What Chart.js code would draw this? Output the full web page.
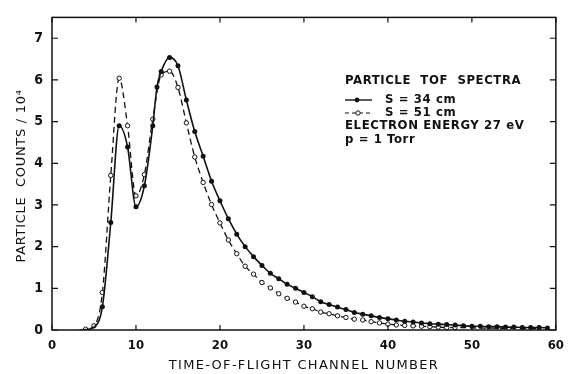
<!DOCTYPE html>
<html>
<head>
<meta charset="utf-8">
<script src="https://cdn.jsdelivr.net/npm/chart.js@4"></script>
<style>
    html, body { margin: 0; padding: 0; background: #fff; }
    #wrap { width: 572px; height: 374px; }
</style>
</head>
<body>
<div id="wrap"><canvas id="tofChart" width="572" height="374"></canvas></div>
<script>
// S = 34 cm (solid, filled dots)
const channelsS34 = [3.3, 4, 5, 6, 7, 8, 9, 10, 11, 12, 12.5, 13, 14, 15, 16, 17, 18, 19, 20,
    21, 22, 23, 24, 25, 26, 27, 28, 29, 30, 31, 32, 33, 34, 35, 36, 37, 38, 39, 40,
    41, 42, 43, 44, 45, 46, 47, 48, 49, 50, 51, 52, 53, 54, 55, 56, 57, 58, 59];
const countsS34 = [0, 0.01, 0.07, 0.56, 2.58, 4.9, 4.39, 2.96, 3.46, 4.9, 5.83, 6.2, 6.54, 6.34, 5.52, 4.76, 4.17, 3.57, 3.1,
    2.67, 2.3, 2.0, 1.76, 1.55, 1.36, 1.23, 1.1, 1.0, 0.9, 0.8, 0.68, 0.61, 0.55, 0.49, 0.42, 0.38, 0.34, 0.30, 0.27,
    0.24, 0.21, 0.19, 0.17, 0.15, 0.14, 0.13, 0.12, 0.10, 0.09, 0.09, 0.08, 0.08, 0.07, 0.07, 0.06, 0.06, 0.06, 0.05];

// S = 51 cm (dashed, open circles)
const channelsS51 = [3.3, 4, 5, 6, 7, 8, 9, 10, 11, 12, 13, 14, 15, 16, 17, 18, 19, 20,
    21, 22, 23, 24, 25, 26, 27, 28, 29, 30, 31, 32, 33, 34, 35, 36, 37, 38, 39, 40,
    41, 42, 43, 44, 45, 46, 47, 48, 50, 54, 58];
const countsS51 = [0, 0.02, 0.1, 0.9, 3.71, 6.04, 4.9, 3.22, 3.73, 5.06, 6.12, 6.21, 5.82, 4.97, 4.15, 3.54, 3.01, 2.57,
    2.16, 1.83, 1.53, 1.34, 1.14, 1.01, 0.87, 0.76, 0.67, 0.57, 0.51, 0.43, 0.39, 0.34, 0.30, 0.26, 0.24, 0.20, 0.17, 0.14,
    0.12, 0.11, 0.10, 0.09, 0.08, 0.07, 0.06, 0.06, 0.05, 0.04, 0.03];

const xTicks = [0, 10, 20, 30, 40, 50, 60];
const yTicks = [0, 1, 2, 3, 4, 5, 6, 7];

const xTitle = 'TIME-OF-FLIGHT CHANNEL NUMBER';
const yTitle = 'PARTICLE  COUNTS / 10⁴';
const legendLines = ['PARTICLE  TOF  SPECTRA', 'S = 34 cm', 'S = 51 cm', 'ELECTRON ENERGY 27 eV', 'p = 1 Torr'];

const FONT = "'DejaVu Sans Condensed', 'DejaVu Sans', sans-serif";
const FONT_WIDE = "'DejaVu Sans', sans-serif";

function toPoints(xs, ys) {
    return xs.map((x, i) => ({ x: x, y: ys[i] }));
}

// frame with inward ticks on all four sides, axis titles and the text block
const framePlugin = {
    id: 'frame',
    afterDraw(chart) {
        const { ctx, chartArea: a, scales } = chart;
        ctx.save();
        ctx.strokeStyle = '#111';
        ctx.lineWidth = 1.5;
        ctx.strokeRect(a.left, a.top, a.right - a.left, a.bottom - a.top);
        ctx.lineWidth = 1.2;
        ctx.beginPath();
        xTicks.forEach(v => {
            const px = scales.x.getPixelForValue(v);
            ctx.moveTo(px, a.bottom); ctx.lineTo(px, a.bottom - 5);
            ctx.moveTo(px, a.top); ctx.lineTo(px, a.top + 5);
        });
        yTicks.forEach(v => {
            const py = scales.y.getPixelForValue(v);
            ctx.moveTo(a.left, py); ctx.lineTo(a.left + 6, py);
            ctx.moveTo(a.right, py); ctx.lineTo(a.right - 6, py);
        });
        ctx.stroke();

        ctx.fillStyle = '#111';
        ctx.textBaseline = 'middle';
        ctx.textAlign = 'center';

        // axis titles (letter-spaced like the original lettering)
        ctx.font = '13px ' + FONT_WIDE;
        ctx.letterSpacing = '1.3px';
        ctx.fillText(xTitle, (a.left + a.right) / 2, 366);
        ctx.letterSpacing = '0.7px';
        ctx.save();
        ctx.translate(22, 176);
        ctx.rotate(-Math.PI / 2);
        ctx.fillText(yTitle, 0, 0);
        ctx.restore();

        // legend block
        const lx = 345;
        ctx.textAlign = 'left';
        ctx.font = 'bold 13px ' + FONT;
        ctx.letterSpacing = '0.6px';
        ctx.fillText(legendLines[0], lx, 81);
        ctx.fillText(legendLines[1], 385, 100);
        ctx.fillText(legendLines[2], 385, 113);
        ctx.fillText(legendLines[3], lx, 126);
        ctx.fillText(legendLines[4], lx, 140);
        ctx.letterSpacing = '0px';

        // sample marks
        ctx.lineWidth = 1.4;
        ctx.beginPath();
        ctx.moveTo(lx, 100); ctx.lineTo(lx + 27, 100);
        ctx.stroke();
        ctx.beginPath();
        ctx.arc(lx + 12, 100, 2.4, 0, Math.PI * 2);
        ctx.fill();
        ctx.setLineDash([4, 3]);
        ctx.lineWidth = 1.2;
        ctx.beginPath();
        ctx.moveTo(lx, 113); ctx.lineTo(lx + 27, 113);
        ctx.stroke();
        ctx.setLineDash([]);
        ctx.fillStyle = '#fff';
        ctx.beginPath();
        ctx.arc(lx + 13, 113, 2.2, 0, Math.PI * 2);
        ctx.fill();
        ctx.lineWidth = 1;
        ctx.stroke();
        ctx.restore();
    }
};

const ctx = document.getElementById('tofChart').getContext('2d');
new Chart(ctx, {
    type: 'line',
    data: {
        datasets: [{
            label: 'S = 34 cm',
            data: toPoints(channelsS34, countsS34),
            borderColor: '#111',
            borderWidth: 1.6,
            backgroundColor: '#111',
            pointBorderColor: '#111',
            pointBorderWidth: 0,
            pointRadius: c => (c.raw && c.raw.x < 5.5 ? 0 : 2.5),
            cubicInterpolationMode: 'monotone',
            fill: false
        }, {
            label: 'S = 51 cm',
            data: toPoints(channelsS51, countsS51),
            borderColor: '#111',
            borderWidth: 1.3,
            borderDash: [6, 4],
            backgroundColor: '#fff',
            pointBackgroundColor: '#fff',
            pointBorderColor: '#111',
            pointBorderWidth: 1,
            pointRadius: c => (c.raw && (c.raw.x < 3.5 || c.raw.x > 48.5) ? 0 : 2.2),
            cubicInterpolationMode: 'monotone',
            fill: false
        }]
    },
    options: {
        responsive: false,
        animation: false,
        layout: { padding: { top: 13, right: 4, left: 0, bottom: 0 } },
        scales: {
            x: {
                type: 'linear',
                min: 0,
                max: 60,
                afterBuildTicks: axis => { axis.ticks = xTicks.map(v => ({ value: v })); },
                afterFit: axis => { axis.height = 44; },
                grid: { display: false, drawTicks: false },
                border: { display: false },
                ticks: {
                    color: '#111',
                    padding: 8,
                    font: { family: FONT, size: 13, weight: 'bold' }
                }
            },
            y: {
                type: 'linear',
                min: 0,
                max: 7.5,
                afterBuildTicks: axis => { axis.ticks = yTicks.map(v => ({ value: v })); },
                afterFit: axis => { axis.width = 52; },
                grid: { display: false, drawTicks: false },
                border: { display: false },
                ticks: {
                    color: '#111',
                    padding: 9,
                    font: { family: FONT, size: 14, weight: 'bold' }
                }
            }
        },
        plugins: {
            legend: { display: false },
            tooltip: { enabled: false }
        }
    },
    plugins: [framePlugin]
});
</script>
</body>
</html>
